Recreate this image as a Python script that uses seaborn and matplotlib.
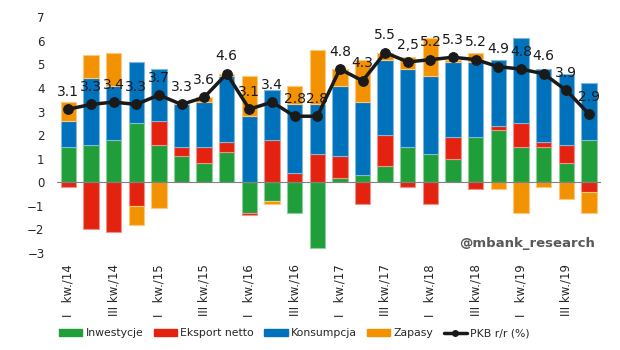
import numpy as np
import pandas as pd
import seaborn as sns
import matplotlib.pyplot as plt
from matplotlib.patches import Patch
from matplotlib.lines import Line2D

quarters = ['I   kw./14', 'II kw./14', 'III kw./14', 'IV kw./14',
            'I   kw./15', 'II kw./15', 'III kw./15', 'IV kw./15',
            'I   kw./16', 'II kw./16', 'III kw./16', 'IV kw./16',
            'I   kw./17', 'II kw./17', 'III kw./17', 'IV kw./17',
            'I   kw./18', 'II kw./18', 'III kw./18', 'IV kw./18',
            'I   kw./19', 'II kw./19', 'III kw./19', 'IV kw./19']

inwestycje = [1.5, 1.6, 1.8, 2.5, 1.6, 1.1, 0.8, 1.3, -1.3, -0.8, -1.3, -2.8,
              0.2, 0.3, 0.7, 1.5, 1.2, 1.0, 1.9, 2.2, 1.5, 1.5, 0.8, 1.8]
eksport = [-0.2, -2.0, -2.1, -1.0, 1.0, 0.4, 0.7, 0.4, -0.1, 1.8, 0.4, 1.2,
           0.9, -0.9, 1.3, -0.2, -0.9, 0.9, -0.3, 0.2, 1.0, 0.2, 0.8, -0.4]
konsumpcja = [1.1, 2.8, 2.3, 2.6, 2.2, 1.8, 1.9, 2.8, 2.8, 2.1, 2.9, 2.1,
              3.0, 3.1, 3.2, 3.3, 3.3, 3.2, 3.2, 2.8, 3.6, 3.1, 3.0, 2.4]
zapasy = [0.8, 1.0, 1.4, -0.8, -1.1, 0.0, 0.2, 0.1, 1.7, -0.1, 0.8, 2.3,
          0.7, 1.8, 0.3, 0.5, 1.6, 0.1, 0.4, -0.3, -1.3, -0.2, -0.7, -0.9]
pkb = [3.1, 3.3, 3.4, 3.3, 3.7, 3.3, 3.6, 4.6, 3.1, 3.4, 2.8, 2.8,
       4.8, 4.3, 5.5, 5.1, 5.2, 5.3, 5.2, 4.9, 4.8, 4.6, 3.9, 2.9]
pkb_labels = ['3.1', '3.3', '3.4', '3.3', '3.7', '3.3', '3.6', '4.6', '3.1', '3.4', '2.8', '2.8',
              '4.8', '4.3', '5.5', '2,5', '5.2', '5.3', '5.2', '4.9', '4.8', '4.6', '3.9', '2.9']

series = {'Inwestycje': inwestycje, 'Eksport netto': eksport,
          'Konsumpcja': konsumpcja, 'Zapasy': zapasy}
colors = {'Inwestycje': '#1f9e3a', 'Eksport netto': '#e3230f',
          'Konsumpcja': '#0072bc', 'Zapasy': '#f39200'}
edges = {'Inwestycje': '#8fcf9c', 'Eksport netto': '#f1918a',
         'Konsumpcja': '#80b8de', 'Zapasy': '#f9c980'}

sns.set_style('white')
plt.rcParams['font.family'] = ['DejaVu Sans']

fig = plt.figure(figsize=(6.2, 3.5), dpi=100)
ax = fig.add_axes([0.092, 0.277, 0.876, 0.674])

x = np.arange(len(quarters))
pos_base = np.zeros(len(quarters))
neg_base = np.zeros(len(quarters))
for name, vals in series.items():
    v = np.array(vals)
    bottom = np.where(v >= 0, pos_base, neg_base)
    ax.bar(x, v, bottom=bottom, width=0.68, color=colors[name],
           edgecolor=edges[name], linewidth=0.8, zorder=2)
    pos_base += np.clip(v, 0, None)
    neg_base += np.clip(v, None, 0)

df = pd.DataFrame({'x': x, 'pkb': pkb})
sns.lineplot(data=df, x='x', y='pkb', ax=ax, color='#1a1a1a', linewidth=2.5,
             marker='o', markersize=7, markeredgecolor='#1a1a1a', zorder=4)
for xi, yi, lab in zip(x, pkb, pkb_labels):
    ax.annotate(lab, (xi, yi), xytext=(0, 12.5), textcoords='offset points',
                ha='center', va='center', fontsize=10, color='#1a1a1a', zorder=5)

ax.set_xlim(-0.5, len(quarters) - 0.5)
ax.set_ylim(-3, 7)
ax.set_yticks(range(-3, 8))
ax.tick_params(axis='y', length=0, labelsize=8.5, pad=9)
for s in ['top', 'right', 'left']:
    ax.spines[s].set_visible(False)
ax.spines['bottom'].set_position(('data', 0))
ax.spines['bottom'].set_color('#808080')
ax.spines['bottom'].set_zorder(3)
ax.set_xticks(np.arange(-0.5, len(quarters)), minor=True)
ax.set_xticks([])
ax.tick_params(axis='x', which='minor', length=3, direction='out', color='#808080')
ax.set_xlabel('')
ax.set_ylabel('')

sec = ax.secondary_xaxis(0)
sec.set_xticks(x[::2], labels=quarters[::2], rotation=90, fontsize=8.5)
sec.tick_params(length=0, pad=8)
sec.spines['bottom'].set_visible(False)

ax.text(0.99, 0.042, '@mbank_research', transform=ax.transAxes, ha='right',
        va='center', fontsize=9.5, fontweight='bold', color='#595959')

handles = [Patch(color=colors[n], label=n) for n in series]
handles.append(Line2D([], [], color='#1a1a1a', linewidth=2.5, marker='o',
                      markersize=4, label='PKB r/r (%)'))
fig.legend(handles=handles, loc='center', bbox_to_anchor=(0.475, 0.048), ncol=5,
           frameon=False, fontsize=7.8, handlelength=2.15, handleheight=0.6,
           handletextpad=0.3, columnspacing=0.95)

plt.savefig('out.png', dpi=100)
